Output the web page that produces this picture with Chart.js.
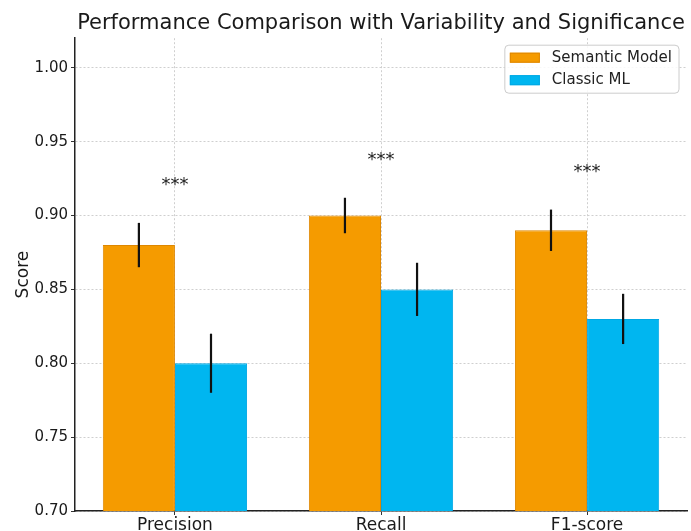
<!DOCTYPE html>
<html>
<head>
<meta charset="utf-8">
<script src="https://cdn.jsdelivr.net/npm/chart.js@4.4.1/dist/chart.umd.min.js"></script>
<style>
  html, body { margin: 0; padding: 0; background: #fff; }
  #wrap { width: 691px; height: 531px; }
</style>
</head>
<body>
<div id="wrap"><canvas id="canvas" width="691" height="531"></canvas></div>
<script>
var categories = ['Precision', 'Recall', 'F1-score'];
var semanticScores = [0.88, 0.90, 0.89];
var semanticErrors = [0.015, 0.012, 0.014];
var classicScores = [0.80, 0.85, 0.83];
var classicErrors = [0.020, 0.018, 0.017];
var significance = ['***', '***', '***'];
var yTicks = [0.70, 0.75, 0.80, 0.85, 0.90, 0.95, 1.00];

var FONT = "'DejaVu Sans', sans-serif";
var orange = 'rgb(245, 155, 0)';
var blue = 'rgb(0, 182, 240)';

function points(values) {
  return values.map(function(v, j) { return { x: j, y: v }; });
}

// error bars drawn from the bar elements + y scale
var errorBars = {
  id: 'errorBars',
  afterDatasetsDraw: function(chart) {
    var ctx = chart.ctx;
    var y = chart.scales.y;
    ctx.save();
    ctx.strokeStyle = '#111';
    ctx.lineWidth = 2.2;
    chart.data.datasets.forEach(function(ds, i) {
      var meta = chart.getDatasetMeta(i);
      meta.data.forEach(function(bar, j) {
        var v = ds.data[j].y, e = ds.errors[j];
        ctx.beginPath();
        ctx.moveTo(bar.x, y.getPixelForValue(v + e));
        ctx.lineTo(bar.x, y.getPixelForValue(v - e));
        ctx.stroke();
      });
    });
    ctx.restore();
  }
};

// significance stars above the tallest error bar of each group
var sigStars = {
  id: 'sigStars',
  afterDatasetsDraw: function(chart) {
    var ctx = chart.ctx;
    var x = chart.scales.x, y = chart.scales.y;
    ctx.save();
    ctx.font = '18px ' + FONT;
    ctx.fillStyle = '#222';
    ctx.textAlign = 'center';
    ctx.textBaseline = 'middle';
    significance.forEach(function(s, j) {
      var top = Math.max(semanticScores[j] + semanticErrors[j], classicScores[j] + classicErrors[j]);
      ctx.fillText(s, x.getPixelForValue(j), y.getPixelForValue(top) - 37.5);
    });
    ctx.restore();
  }
};

// matplotlib-like legend box in the upper right
var boxLegend = {
  id: 'boxLegend',
  afterDraw: function(chart) {
    var ctx = chart.ctx;
    var area = chart.chartArea;
    var ds = chart.data.datasets;
    ctx.save();
    ctx.font = '15px ' + FONT;
    var tw = 0;
    ds.forEach(function(d) { tw = Math.max(tw, ctx.measureText(d.label).width); });
    var w = 5 + 30 + 12 + tw + 7;
    var h = 48;
    var bx = area.right - 8 - w, by = area.top + 7;
    ctx.beginPath();
    ctx.roundRect(bx, by, w, h, 4);
    ctx.fillStyle = 'rgba(255,255,255,0.85)';
    ctx.fill();
    ctx.strokeStyle = '#cccccc';
    ctx.lineWidth = 1;
    ctx.stroke();
    ds.forEach(function(d, i) {
      var cy = by + 12.5 + i * 22.5;
      ctx.fillStyle = d.backgroundColor;
      ctx.fillRect(bx + 5, cy - 5, 30, 10);
      ctx.strokeStyle = d.borderColor;
      ctx.strokeRect(bx + 5.5, cy - 4.5, 29, 9);
      ctx.fillStyle = '#222';
      ctx.textBaseline = 'middle';
      ctx.fillText(d.label, bx + 47, cy);
    });
    ctx.restore();
  }
};

var whiteBg = {
  id: 'whiteBg',
  beforeDraw: function(chart) {
    var ctx = chart.ctx;
    ctx.save();
    ctx.fillStyle = '#fff';
    ctx.fillRect(0, 0, chart.width, chart.height);
    ctx.restore();
  }
};

var config = {
  type: 'bar',
  data: {
    datasets: [{
      label: 'Semantic Model',
      data: points(semanticScores),
      errors: semanticErrors,
      backgroundColor: orange,
      borderColor: 'rgb(222, 135, 0)',
      borderWidth: 1
    }, {
      label: 'Classic ML',
      data: points(classicScores),
      errors: classicErrors,
      backgroundColor: blue,
      borderColor: 'rgb(0, 168, 228)',
      borderWidth: 1
    }]
  },
  options: {
    responsive: false,
    animation: false,
    devicePixelRatio: 1,
    categoryPercentage: 0.7,
    barPercentage: 1.0,
    layout: { padding: { left: 0, right: 4, top: 0, bottom: 0 } },
    plugins: {
      legend: { display: false },
      tooltip: { enabled: false },
      title: {
        display: true,
        text: 'Performance Comparison with Variability and Significance',
        fullSize: false,
        font: { family: FONT, size: 21, weight: 'normal' },
        color: '#1a1a1a',
        padding: { top: 11, bottom: 2 }
      }
    },
    scales: {
      x: {
        type: 'linear',
        offset: false,
        min: -0.485,
        max: 2.485,
        afterBuildTicks: function(s) { s.ticks = categories.map(function(c, j) { return { value: j }; }); },
        grid: { offset: false, color: '#cfcfcf', tickLength: 4, tickColor: '#333' },
        border: { display: true, color: '#222', width: 1.5, dash: [2, 2] },
        ticks: {
          font: { family: FONT, size: 17 }, color: '#1a1a1a', padding: 0,
          callback: function(v) { return categories[v]; }
        },
        afterFit: function(s) { s.height = 20; }
      },
      y: {
        min: 0.70,
        max: 1.02,
        afterBuildTicks: function(s) { s.ticks = yTicks.map(function(v) { return { value: v }; }); },
        afterFit: function(s) { s.width = 75; },
        grid: { color: '#cfcfcf', tickLength: 4, tickColor: '#333' },
        border: { display: true, color: '#222', width: 1.5, dash: [2, 2] },
        ticks: {
          font: { family: FONT, size: 15 }, color: '#1a1a1a', padding: 3,
          callback: function(v) { return Number(v).toFixed(2); }
        },
        title: {
          display: true, text: 'Score',
          font: { family: FONT, size: 17 }, color: '#1a1a1a',
          padding: { top: 13, bottom: 0 }
        }
      }
    }
  },
  plugins: [whiteBg, errorBars, sigStars, boxLegend]
};

window.onload = function() {
  window.myBar = new Chart(document.getElementById('canvas'), config);
};
</script>
</body>
</html>
